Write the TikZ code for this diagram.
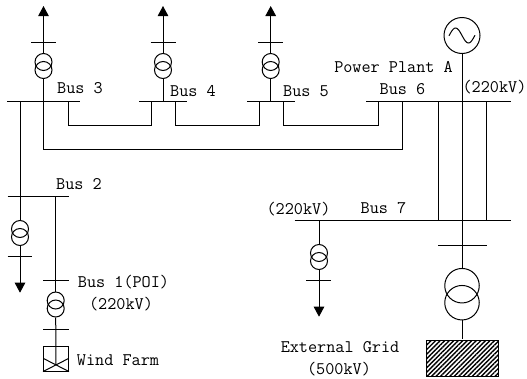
\documentclass[tikz,border=0pt]{standalone}
\usetikzlibrary{arrows.meta,patterns.meta}
\tikzset{
	xcoil/.style={circle,draw,minimum size=17pt,inner sep=0pt},
	bigcoil/.style={circle,draw,minimum size=34.5pt,inner sep=0pt},
	lbl/.style={inner sep=0pt,font=\fontsize{17.7}{18}\selectfont\ttfamily},
}
\begin{document}
\begin{tikzpicture}[x=1pt,y=-1pt,>={Triangle[length=10pt,width=10.5pt]},line width=1pt,color=black]
	\useasboundingbox (0,0) rectangle (527,378);
	\def\ybthree{101.5} \def\ybtwo{196.7} \def\ybseven{220.7}
	% Busbars
	\coordinate (b3l) at (7,\ybthree); \coordinate (b3r) at (80,\ybthree);
	\coordinate (b4l) at (139,\ybthree); \coordinate (b4r) at (187,\ybthree);
	\coordinate (b5l) at (247,\ybthree); \coordinate (b5r) at (295,\ybthree);
	\coordinate (b6l) at (366,\ybthree); \coordinate (b6r) at (510.5,\ybthree);
	\coordinate (b2l) at (7.5,\ybtwo); \coordinate (b2r) at (68.5,\ybtwo);
	\coordinate (b7l) at (294.7,\ybseven); \coordinate (b7r) at (510.5,\ybseven);
	\coordinate (b1l) at (43,280.7); \coordinate (b1r) at (68.5,280.7);
	\draw (b3l)--(b3r) (b4l)--(b4r) (b5l)--(b5r) (b6l)--(b6r) (b2l)--(b2r) (b7l)--(b7r) (b1l)--(b1r);
	% Top feeders
	\foreach \x/\n in {43.5/a,163/b,270.7/c}{
		\coordinate (tip\n) at (\x,6);
		\coordinate (bus\n) at (\x,\ybthree);
		\coordinate (barl\n) at (\x-12.5,42);
		\coordinate (barr\n) at (\x+12.5,42);
		\node[xcoil] (up\n) at (\x,62) {};
		\node[xcoil] (dn\n) at (\x,70) {};
		\draw[->] (up\n.north)--(tip\n);
		\draw (dn\n.south)--(bus\n) (barl\n)--(barr\n);
	}
	% Ties between buses
	\draw (68,\ybthree)--(68,125)--(151,125)--(151,\ybthree);
	\draw (175.5,\ybthree)--(175.5,125)--(259,125)--(259,\ybthree);
	\draw (283,\ybthree)--(283,125)--(378.7,125)--(378.7,\ybthree);
	\draw (busa)--(43.5,149.5)--(402.3,149.5)--(402.3,\ybthree);
	% Load on Bus 2
	\node[xcoil] (upd) at (20,229) {};
	\node[xcoil] (dnd) at (20,237) {};
	\coordinate (tipd) at (20,292.7);
	\draw (20,\ybthree)--(upd.north);
	\draw[->] (dnd.south)--(tipd);
	\draw (7.5,256.7)--(32,256.7);
	% Wind farm branch
	\node[xcoil] (upw) at (55.7,300.5) {};
	\node[xcoil] (dnw) at (55.7,308.5) {};
	\node[draw,minimum width=25pt,minimum height=24.5pt,inner sep=0pt] (wind) at (56,358.8) {};
	\coordinate (cross) at (56,364.5);
	\draw (55.7,\ybtwo)--(upw.north);
	\draw (dnw.south)--(cross);
	\draw (43.5,358.5)--(wind.south east) (68.5,358.5)--(wind.south west);
	\draw (43,329)--(68.5,329);
	% Generator
	\node[circle,draw,minimum size=36pt,inner sep=0pt] (gen) at (462,35.5) {};
	\draw[smooth,samples=40,domain=-13:13] plot ({462+\x},{35.5+7.5*sin(14*\x)});
	\node[bigcoil] (upg) at (462,285.7) {};
	\node[bigcoil] (dng) at (462,302.7) {};
	\node[draw,minimum width=72pt,minimum height=36.3pt,inner sep=0pt,
		pattern={Lines[angle=45,distance=3.2pt,line width=1.4pt]}] (grid) at (462.3,358.2) {};
	\draw (gen.south)--(upg.north);
	\draw (dng.south)--(dng.south |- grid.north);
	\draw (438,\ybthree)--(438,\ybseven) (486,\ybthree)--(486,\ybseven);
	\draw (438,245)--(486.5,245);
	% Load on Bus 7
	\node[xcoil] (upl) at (319,253) {};
	\node[xcoil] (dnl) at (319,261) {};
	\coordinate (tipl) at (319,316.7);
	\draw (319,\ybseven)--(upl.north);
	\draw[->] (dnl.south)--(tipl);
	\draw (306,280.7)--(331,280.7);
	% Labels
	\node[lbl] (l3) at (80,88) {Bus 3};
	\node[lbl] (l4) at (193,91) {Bus 4};
	\node[lbl] (l5) at (306,91) {Bus 5};
	\node[lbl] (l6) at (402.5,89.5) {Bus 6};
	\node[lbl] (lp) at (393.5,67) {Power Plant A};
	\node[lbl] (lk) at (494.5,87) {(220kV)};
	\node[lbl] (l2) at (79,184) {Bus 2};
	\node[lbl] (l1) at (123.5,282) {Bus 1(POI)};
	\node[lbl] (lk1) at (121,304) {(220kV)};
	\node[lbl] (lw) at (118,360) {Wind Farm};
	\node[lbl] (lk7) at (298.5,209) {(220kV)};
	\node[lbl] (l7) at (383.5,208) {Bus 7};
	\node[lbl] (le) at (340,347) {External Grid};
	\node[lbl] (lk5) at (339,369) {(500kV)};
\end{tikzpicture}
\end{document}
